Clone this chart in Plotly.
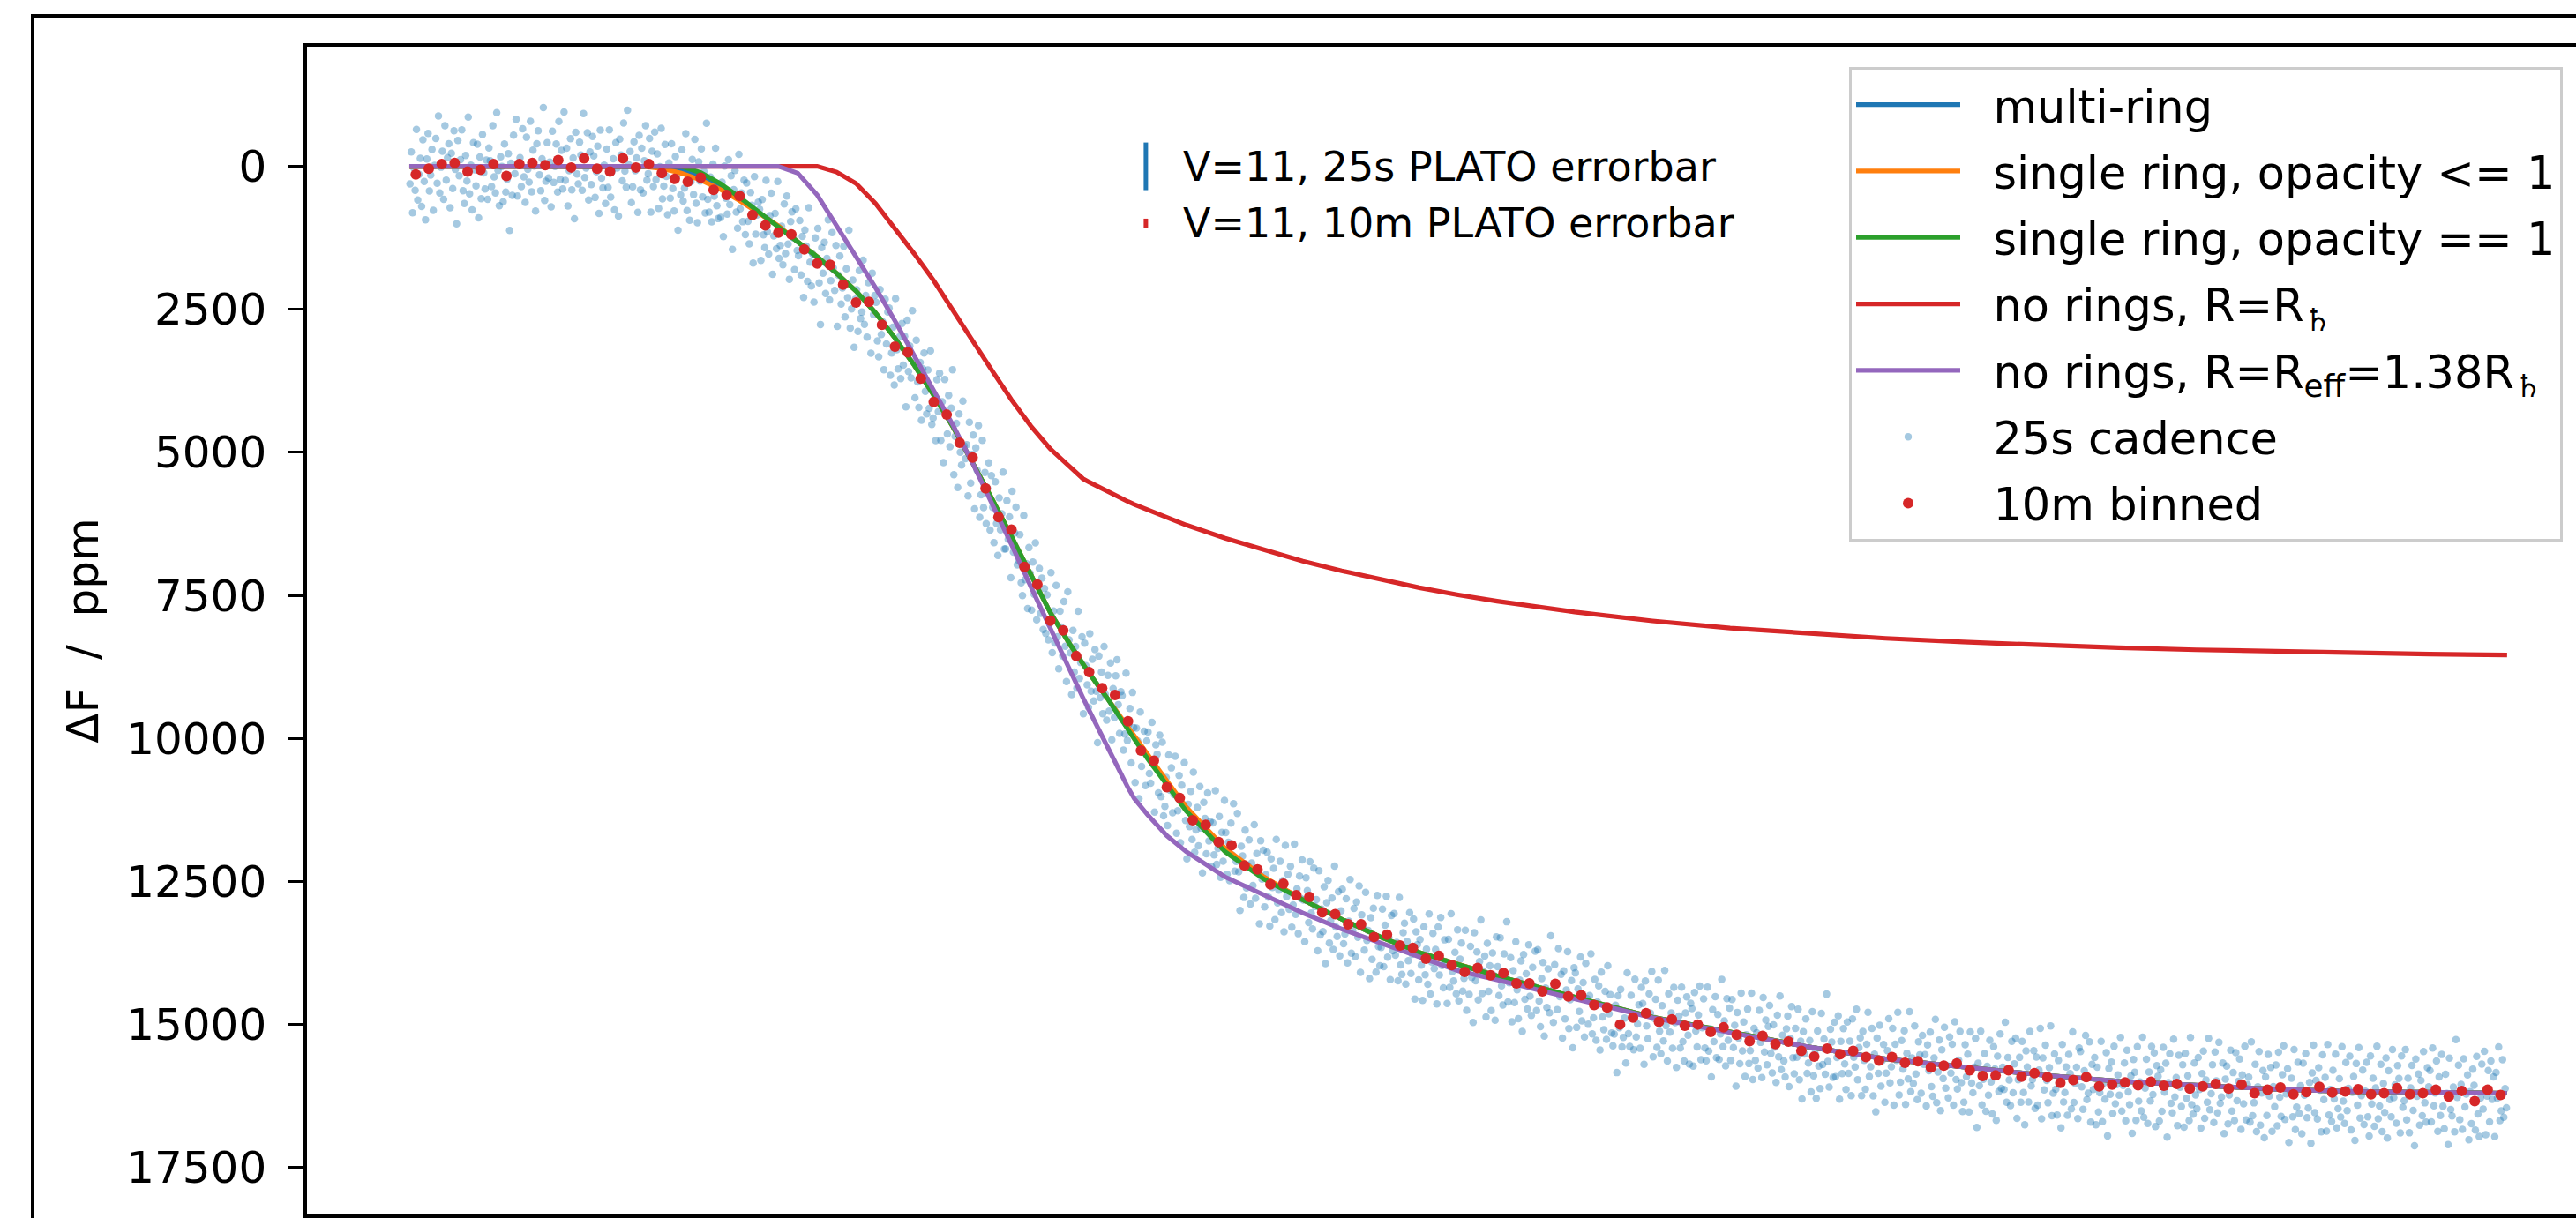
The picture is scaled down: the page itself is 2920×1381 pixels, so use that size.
import plotly.graph_objects as go

# ---------------- data (time in hours, flux drop in ppm) ----------------
t_model = [0, 1, 2, 3, 3.25, 3.5, 3.75, 4, 4.25, 4.5, 4.75, 5, 5.25, 5.5, 5.75, 6,
           6.25, 6.5, 6.75, 7, 7.25, 7.5, 7.75, 8, 8.25, 8.5, 8.67, 8.75, 9, 9.25,
           9.33, 9.5, 9.75, 10, 10.5, 11, 11.5, 12, 12.5, 13, 13.5, 14, 15, 16, 17,
           18, 19, 20, 21, 22, 23, 24, 25, 26, 27]

multi_ring = [0, 0, 0, 0, 10, 60, 170, 350, 570, 810, 1050, 1320, 1580, 1870, 2180, 2560,
              3000, 3480, 4000, 4560, 5180, 5810, 6470, 7140, 7800, 8350, 8700, 8860, 9330, 9840,
              9990, 10310, 10770, 11230, 11950, 12440, 12820, 13160, 13470, 13740, 13950, 14150,
              14520, 14870, 15130, 15390, 15600, 15750, 15880, 15990, 16070, 16130, 16170, 16190, 16200]

single_ring_le1 = [0, 0, 0, 0, 40, 120, 240, 400, 600, 820, 1040, 1320, 1580, 1870, 2180, 2560,
                   3000, 3480, 4000, 4560, 5180, 5810, 6470, 7140, 7800, 8350, 8700, 8860, 9330, 9810,
                   9960, 10280, 10740, 11200, 11920, 12420, 12820, 13160, 13470, 13740, 13950, 14150,
                   14520, 14870, 15130, 15390, 15600, 15750, 15880, 15990, 16070, 16130, 16170, 16190, 16200]

single_ring_eq1 = [0, 0, 0, 0, 0, 0, 110, 300, 540, 800, 1060, 1330, 1580, 1870, 2180, 2560,
                   3000, 3480, 4000, 4560, 5180, 5810, 6470, 7140, 7800, 8350, 8700, 8860, 9330, 9860,
                   10010, 10350, 10820, 11270, 11980, 12460, 12820, 13160, 13470, 13740, 13950, 14150,
                   14520, 14870, 15130, 15390, 15600, 15750, 15880, 15990, 16070, 16130, 16170, 16190, 16200]

no_rings_r = [0, 0, 0, 0, 0, 0, 0, 0, 0, 0, 0, 0, 0, 100, 300, 650,
              1080, 1530, 2000, 2510, 3050, 3570, 4080, 4540, 4940, 5250, 5460, 5520, 5700, 5860,
              5910, 6000, 6140, 6270, 6500, 6710, 6900, 7070, 7225, 7365, 7490, 7600,
              7790, 7945, 8070, 8170, 8250, 8315, 8370, 8415, 8450, 8480, 8505, 8525, 8540]

no_rings_reff = [0, 0, 0, 0, 0, 0, 0, 0, 0, 0, 0, 120, 500, 1040, 1580, 2120,
                 2700, 3300, 3900, 4530, 5190, 5880, 6610, 7350, 8090, 8810, 9290, 9510, 10200, 10860,
                 11050, 11330, 11700, 11980, 12420, 12740, 13050, 13330, 13580, 13830, 14060, 14220,
                 14560, 14880, 15140, 15390, 15600, 15750, 15880, 15990, 16070, 16130, 16170, 16190, 16200]

# 10-minute binned points (one per bin, starting at t=0)
binned_10m = [140, 40, -40, -60, 90, 60, -40, 170, -40, -60, -20, -110, 20, -140, 40, 90, -140, 20, -40,
              120, 220, 270, 200, 410, 500, 520, 850, 1030, 1160,
              1190, 1450, 1700, 1720, 2070, 2380, 2370, 2770, 3150, 3250,
              3710, 4120, 4340, 4830, 5090, 5630, 6130, 6350, 7000, 7310,
              7940, 8110, 8560, 8840, 9120, 9240, 9700, 10210, 10390, 10850,
              11040, 11430, 11510, 11810, 11870, 12220, 12290, 12550, 12540, 12740,
              12770, 13040, 13070, 13250, 13250, 13470, 13430, 13620, 13660, 13850,
              13800, 13960, 14080, 14010, 14140, 14100, 14280, 14280, 14420, 14290,
              14510, 14490, 14660, 14700, 15000, 14880, 14800, 14950, 14910, 15020,
              15000, 15130, 15050, 15180, 15290, 15200, 15340, 15300, 15460, 15560,
              15420, 15520, 15460, 15570, 15630, 15570, 15670, 15640, 15750, 15720,
              15680, 15800, 15900, 15890, 15800, 15910, 15850, 15920, 16020, 15970,
              15920, 16080, 16050, 16010, 16060, 16000, 16070, 16040, 16120, 16080,
              16040, 16120, 16050, 16200, 16140, 16100, 16220, 16180, 16090, 16190,
              16170, 16130, 16220, 16200, 16110, 16220, 16200, 16140, 16260, 16160,
              16340, 16140, 16230]

# individual short-cadence points: offsets from their bin value, in residual units
resid_25s = [
    3, -7, 12, -2, 5, -14, 8, 0, -5, 10, -9, 4, 16, -3, -11, 7, 2, -6, 13, -1, -8, 6, -15, 9, 1, -4, 11, -12, 5, -2,
    -6, 14, -3, 8, -10, 2, 19, -7, 4, -1, -13, 6, 10, -5, 3, -17, 7, -2, 12, -9, 0, 5, -8, 15, -4, 9, -11, 1, 6, -3,
    11, -5, -1, 7, -12, 4, 9, -16, 2, 13, -6, -3, 8, -10, 5, 1, -7, 17, -4, 6, -9, 3, -14, 10, 0, -2, 7, -11, 4, 12,
    -8, 2, 6, -13, 9, -4, 1, 15, -6, -10, 3, 8, -2, -18, 11, 5, -7, 4, -1, 13, -9, 7, 2, -5, 10, -12, 6, -3, 9, -15,
    4, -6, 12, 1, -9, 7, -3, 16, -11, 2, 8, -5, -1, 10, -14, 6, 3, -8, 13, -2, 5, -10, -4, 9, 1, -7, 14, -12, 3, 6,
    -2, 10, -7, 5, -13, 8, 0, -4, 12, -9, 3, 18, -6, -1, 7, -11, 4, 9, -15, 2, -5, 11, 6, -8, 1, -3, 14, -10, 7, -6,
    9, -1, -12, 5, 3, -8, 15, -4, 7, -10, 2, -6, 11, -2, -14, 8, 4, -9, 1, 13, -5, 6, -11, 3, 10, -7, -1, 16, -3, 5,
    -10, 6, 2, -15, 9, -3, 12, 0, -7, 4, -12, 8, 14, -5, 1, -9, 6, -2, 11, -17, 3, 7, -4, 10, -8, 2, -13, 5, 9, -1,
    7, -4, 13, -9, 1, 6, -11, 3, -6, 17, -2, -8, 5, 10, -13, 4, -1, 8, -5, 12, -10, 2, 9, -7, -3, 15, -12, 6, 0, -4,
    -5, 11, -8, 3, 7, -14, 2, 9, -3, -10, 13, 1, -6, 5, -16, 8, 4, -2, 10, -9, 6, -12, 3, 14, -4, -7, 1, 11, -8, 5,
    2, -9, 8, -4, 15, -6, -1, 10, -13, 4, 7, -3, 12, -8, 0, -11, 6, 19, -5, 3, -7, 9, -2, -14, 11, 5, -10, 1, 8, -6,
    13, -3, -9, 6, 1, -12, 10, -5, 4, -17, 8, 2, -7, 14, -1, -4, 9, -10, 5, 3, -13, 7, -2, 11, -6, 0, 16, -9, 4, -2,
    -7, 5, 10, -11, 3, -1, 14, -8, 6, -4, -12, 9, 2, -6, 12, -15, 1, 7, -3, 10, -9, 4, -5, 17, -10, 6, -2, 8, -13, 3,
    6, -12, 1, 9, -5, 13, -3, -8, 4, 11, -10, 2, -16, 7, 5, -1, 12, -7, 3, -9, 8, -4, 15, -11, 0, 6, -6, 10, -2, -14,
    10, -2, -6, 14, -9, 3, 7, -13, 1, 5, -4, 12, -11, 8, -1, -7, 16, -3, 4, -10, 9, 2, -15, 6, -5, 11, 0, -8, 13, -4,
    -3, 8, -11, 2, 12, -6, 4, -1, -14, 10, 6, -9, 3, -4, 15, -12, 7, 1, -7, 11, -2, -10, 5, 9, -16, 4, -1, 13, -6, 2,
    8, -7, 3, -13, 11, 0, -5, 9, -2, 14, -10, 4, -8, 6, 1, -15, 10, -3, 7, -11, 2, 12, -6, -1, 8, -9, 5, 16, -12, 3,
    -1, 12, -8, 5, -3, 10, -14, 7, 2, -6, 13, -9, -2, 4, 11, -12, 6, -4, 9, -7, 1, 17, -10, 3, -5, 8, -13, 2, 10, -4,
    5, -10, 14, -2, 7, -6, -11, 3, 12, -1, -8, 9, 4, -15, 6, 1, -4, 13, -9, 2, 10, -7, -3, 15, -12, 5, 0, -6, 11, -3,
    -9, 4, 7, -12, 1, 16, -5, -2, 10, -8, 3, -14, 9, 6, -3, 12, -10, 1, -6, 8, -1, -13, 11, 4, -7, 14, -4, 2, -11, 7,
    12, -5, 2, -9, 6, -15, 10, 3, -4, 8, -12, 1, 15, -7, -2, 9, -10, 5, -1, 13, -6, 4, -16, 7, 2, -8, 11, -3, 6, -13,
    -4, 9, -1, 11, -7, 3, -13, 8, 5, -10, 2, 14, -6, -3, 10, -11, 7, 0, -8, 12, -2, 5, -14, 9, -5, 1, 17, -9, 3, -6,
    7, -3, -10, 4, 13, -8, 1, -5, 11, -14, 6, 2, -7, 9, -1, 15, -12, 4, -3, 8, -9, 10, 3, -16, 6, -2, 12, -6, 1, -11,
    1, 14, -6, -2, 8, -11, 5, 10, -9, 3, -4, 12, -13, 7, -1, 6, -8, 16, -3, -10, 9, 2, -5, 11, -15, 4, 7, -7, 13, -1,
    -11, 6, 3, -8, 12, -1, -14, 9, 2, -5, 10, -7, 4, -12, 15, -3, 1, 8, -10, 5, -2, 13, -6, 7, -9, 0, 11, -13, 3, 9,
    4, -8, 10, -3, -12, 7, 1, 14, -6, 5, -10, 3, -1, 11, -15, 6, 9, -4, -7, 12, -2, 4, -11, 8, 2, -9, 16, -5, -1, 10,
    -6, 2, 13, -10, 5, -3, 8, -14, 11, 1, -7, 4, -2, 15, -9, 6, -12, 3, 10, -5, -1, 12, -8, 7, -16, 2, 5, -4, 9, -11,
    9, -4, -9, 6, 2, -13, 12, -1, 7, -8, 3, 17, -11, 4, -5, 10, -2, -15, 8, 1, -6, 13, -10, 5, -3, 11, -7, 0, 14, -12,
    -2, 7, -11, 4, 10, -6, 1, -16, 9, 3, -8, 12, -4, 6, -13, 2, 11, -1, -7, 15, -9, 5, -3, 8, -12, 4, 10, -5, 1, -10,
    6, -13, 3, 11, -4, -9, 14, -1, 5, -7, 9, -15, 2, 12, -6, 0, 8, -11, 4, -3, 13, -8, 7, -2, -14, 10, 1, -5, 16, -9,
    -7, 10, -2, 5, -12, 8, -4, 13, -10, 1, 6, -3, -16, 9, 4, -8, 11, -1, -6, 14, -11, 3, 7, -5, 10, -13, 2, -4, 8, 12,
    3, -6, 15, -9, 1, -11, 7, 4, -2, 12, -14, 5, 9, -7, -1, 10, -12, 6, 2, -4, 11, -8, -3, 16, -10, 4, 8, -6, 0, -13,
    11, -1, -7, 8, -13, 3, 10, -5, 6, -16, 2, 13, -8, 4, -2, 9, -10, 1, 15, -6, -3, 7, -12, 5, 11, -4, -9, 3, 12, -7,
    -5, 13, -10, 2, 7, -3, -12, 11, 1, -8, 5, 9, -14, 6, -1, 14, -7, 3, -11, 8, -4, 10, 2, -15, 6, -2, 12, -9, 4, -6,
    8, -11, 4, -3, 16, -7, 1, 9, -13, 5, -6, 11, -2, -10, 7, 3, -15, 12, -4, 6, -1, 10, -8, 2, 13, -12, 5, -5, 9, -3,
    -12, 3, 9, -6, 1, 12, -9, 4, -15, 8, -2, 6, 11, -4, -8, 14, -1, -11, 5, 10, -7, 2, -13, 9, -3, 15, -6, 1, -10, 7,
    2, -5, 11, -14, 6, -1, 13, -8, 3, 10, -11, 5, -3, 8, -17, 4, 12, -6, -2, 9, -10, 7, 1, -12, 14, -4, 6, -8, 3, 11,
    -9, 7, -3, 14, -10, 2, 5, -13, 9, -1, -6, 12, -8, 1, 10, -4, -14, 6, 3, -9, 11, -2, 16, -7, 4, -11, 8, 0, -5, 13,
    5, -2, -12, 8, 3, -9, 15, -4, 1, -14, 10, 6, -7, 2, -10, 13, -3, 5, -16, 9, -1, 7, -11, 4, 12, -6, -2, 10, -8, 1,
    -4, 12, -7, 1, -11, 6, 9, -3, -15, 11, 2, -8, 14, -5, 4, -12, 7, 0, 10, -9, 3, -6, 13, -13, 5, 8, -1, -10, 6, 15,
    10, -8, 2, -5, 13, -12, 4, 7, -1, -10, 16, -4, 3, -14, 9, 1, -7, 11, -3, 6, -11, 2, 12, -9, -2, 14, -6, 5, -13, 4,
    -1, 6, -15, 10, -4, 3, 11, -9, 7, -2, -12, 13, 1, -6, 8, -11, 5, 15, -8, -3, 9, -13, 4, 2, -7, 11, -5, 10, -1, -14,
    13, -6, 4, -10, 1, 8, -3, -16, 12, 5, -9, 2, 10, -7, -1, 14, -12, 6, 3, -5, 11, -8, -2, 9, -15, 7, 1, -4, 12, -10,
    -8, 3, 10, -2, -13, 7, 5, -11, 14, -4, 1, -9, 12, -6, 8, 2, -14, 11, -1, 4, -10, 16, -5, 3, -7, 9, -12, 6, 0, -3,
    4, -14, 9, 1, -6, 12, -10, 3, 7, -2, 15, -8, -4, 11, -12, 5, -1, 8, -15, 10, 2, -7, 13, -3, 6, -11, 4, -9, 14, -5,
    -3, 11, -5, 8, -12, 2, -7, 16, -1, -10, 6, 9, -14, 4, -2, 13, -9, 1, 7, -6, 12, -11, 3, -4, 10, -16, 5, 8, -8, 2,
    7, -9, 1, 13, -4, -11, 10, -2, 5, -15, 8, 3, -6, 12, -10, -1, 9, -13, 6, 4, -8, 14, -3, -7, 11, 2, -12, 7, -5, 10,
    -10, 5, -1, -8, 14, -3, 6, -12, 11, 0, -5, 9, -16, 7, 3, -9, 12, -2, -13, 10, 1, -6, 15, -4, 8, -11, 2, -7, 13, -1,
    6, -7, 12, -11, 3, 9, -4, -13, 10, 2, -8, 15, -1, -5, 7, -14, 11, 4, -10, 6, -2, 13, -9, 1, -12, 8, 5, -3, 16, -6,
    -13, 8, -2, 10, -6, 1, 14, -10, 4, -3, 12, -15, 7, -1, 9, -7, 2, -12, 11, 5, -4, 8, -14, 3, 10, -9, 6, -1, -11, 12,
    1, -4, 16, -8, 5, -13, 9, 2, -6, 11, -1, -10, 7, 13, -12, 3, -5, 10, -2, -15, 8, 4, -9, 12, -3, 6, -11, 14, -7, 2,
    9, -12, 3, -1, 11, -7, -3, 14, -10, 6, 2, -14, 8, -5, 12, -2, -9, 5, 16, -11, 1, -6, 10, -4, 7, -13, 3, 9, -8, -2,
    -6, 10, -13, 5, 1, -9, 13, -4, 8, -11, 3, 10, -7, -1, 15, -12, 4, 6, -3, 11, -16, 2, -8, 9, -2, 12, -10, 5, 1, -5,
    12, -3, 7, -10, -5, 9, -14, 4, 11, -1, -8, 6, -12, 14, 2, -6, 10, -9, 3, -4, 13, -7, 1, -15, 8, 5, -11, 7, -2, 4,
]

RESID_UNIT = 56      # ppm per residual unit
BIN_MIN = 10         # binned cadence, minutes
N_SUB = 10           # short-cadence points drawn per bin

# PLATO per-point error bars (ppm, half-length) for the inset
errbar_sizes = [416, 85]
errbar_labels = ["V=11, 25s PLATO errorbar", "V=11, 10m PLATO errorbar"]
errbar_colors = ["#1f77b4", "#d62728"]
errbar_x = 9.48
errbar_y = [0, 1000]

y_ticks = [0, 2500, 5000, 7500, 10000, 12500, 15000, 17500]

# ---------------- derived series ----------------
t_bin = [(i + 0.5) * BIN_MIN / 60 for i in range(len(binned_10m))]
t_raw, f_raw = [], []
n_raw = min(len(resid_25s), N_SUB * len(binned_10m))
for k in range(n_raw):
    i, j = divmod(k, N_SUB)
    t_raw.append(i * BIN_MIN / 60 + (j + 0.5) * BIN_MIN / 60 / N_SUB)
    f_raw.append(binned_10m[i] + RESID_UNIT * resid_25s[k])

FONT = "DejaVu Sans"
GAP = "\u00a0\u00a0"   # gap between legend handle and label
fig = go.Figure()

fig.add_trace(go.Scatter(
    x=t_raw, y=f_raw, mode="markers", name=GAP + "25s cadence",
    marker=dict(color="#1f77b4", size=8.5, opacity=0.4, line=dict(width=0)),
    legendrank=6, legendgroup="g6"))

lines = [
    ("multi-ring", multi_ring, "#1f77b4"),
    ("single ring, opacity <= 1", single_ring_le1, "#ff7f0e"),
    ("single ring, opacity == 1", single_ring_eq1, "#2ca02c"),
    ("no rings, R=R<sub>♄</sub>", no_rings_r, "#d62728"),
    ("no rings, R=R<sub>eff</sub>=1.38R<sub>♄</sub>", no_rings_reff, "#9467bd"),
]
for k, (name, vals, col) in enumerate(lines):
    fig.add_trace(go.Scatter(
        x=t_model, y=vals, mode="lines", name=GAP + name,
        line=dict(color=col, width=5.2), legendrank=k + 1, legendgroup=f"g{k+1}"))

fig.add_trace(go.Scatter(
    x=t_bin, y=binned_10m, mode="markers", name=GAP + "10m binned",
    marker=dict(color="#d62728", size=12, line=dict(width=0)),
    legendrank=7, legendgroup="g7"))

for size, col, yc in zip(errbar_sizes, errbar_colors, errbar_y):
    fig.add_trace(go.Scatter(
        x=[errbar_x], y=[yc], mode="markers", showlegend=False, hoverinfo="skip",
        marker=dict(size=1, color="rgba(0,0,0,0)"),
        error_y=dict(type="data", array=[size], color=col, thickness=5, width=0)))

annotations = []
for lab, yc in zip(errbar_labels, errbar_y):
    annotations.append(dict(
        x=errbar_x, y=yc, xref="x", yref="y", text=lab, showarrow=False,
        xanchor="left", yanchor="middle", xshift=40,
        font=dict(family=FONT, size=46, color="black")))

PLOT_L, PLOT_T, PLOT_B = 348, 53, 4
W, H = 2920, 1381
pw, ph = W - PLOT_L, H - PLOT_T - PLOT_B

fig.update_layout(
    width=W, height=H,
    margin=dict(l=PLOT_L, r=0, t=PLOT_T, b=PLOT_B, autoexpand=False),
    paper_bgcolor="white", plot_bgcolor="white",
    font=dict(family=FONT, size=50, color="black"),
    showlegend=True,
    legend=dict(
        x=(2096 - PLOT_L) / pw, y=(H - PLOT_B - 76) / ph,
        xanchor="left", yanchor="top",
        bgcolor="rgba(255,255,255,0.85)", bordercolor="#cccccc", borderwidth=3,
        font=dict(family=FONT, size=51, color="black"),
        tracegroupgap=6, itemwidth=118, traceorder="grouped"),
    annotations=annotations,
    shapes=[dict(type="rect", xref="paper", yref="paper",
                 x0=(37 - PLOT_L) / pw, x1=1.3, y0=-0.3, y1=(H - PLOT_B - 18) / ph,
                 line=dict(color="black", width=4), fillcolor="rgba(0,0,0,0)", layer="above")],
)

fig.update_xaxes(
    range=[-1.317, 27.887], showline=True, linecolor="black", linewidth=3.5, mirror=True,
    ticks="", showticklabels=False, showgrid=False, zeroline=False)

fig.update_yaxes(
    range=[18320, -2090], tickvals=y_ticks, ticktext=[str(v) for v in y_ticks],
    ticks="outside", ticklen=18, tickwidth=3, tickcolor="black", ticklabelstandoff=14,
    showline=True, linecolor="black", linewidth=3.5, mirror=False,
    showgrid=False, zeroline=False, automargin=False,
    tickfont=dict(family=FONT, size=50, color="black"),
    title=dict(text="ΔF\u00a0\u00a0/\u00a0\u00a0ppm", standoff=17,
               font=dict(family=FONT, size=50, color="black")))

fig.write_html("out.html")
